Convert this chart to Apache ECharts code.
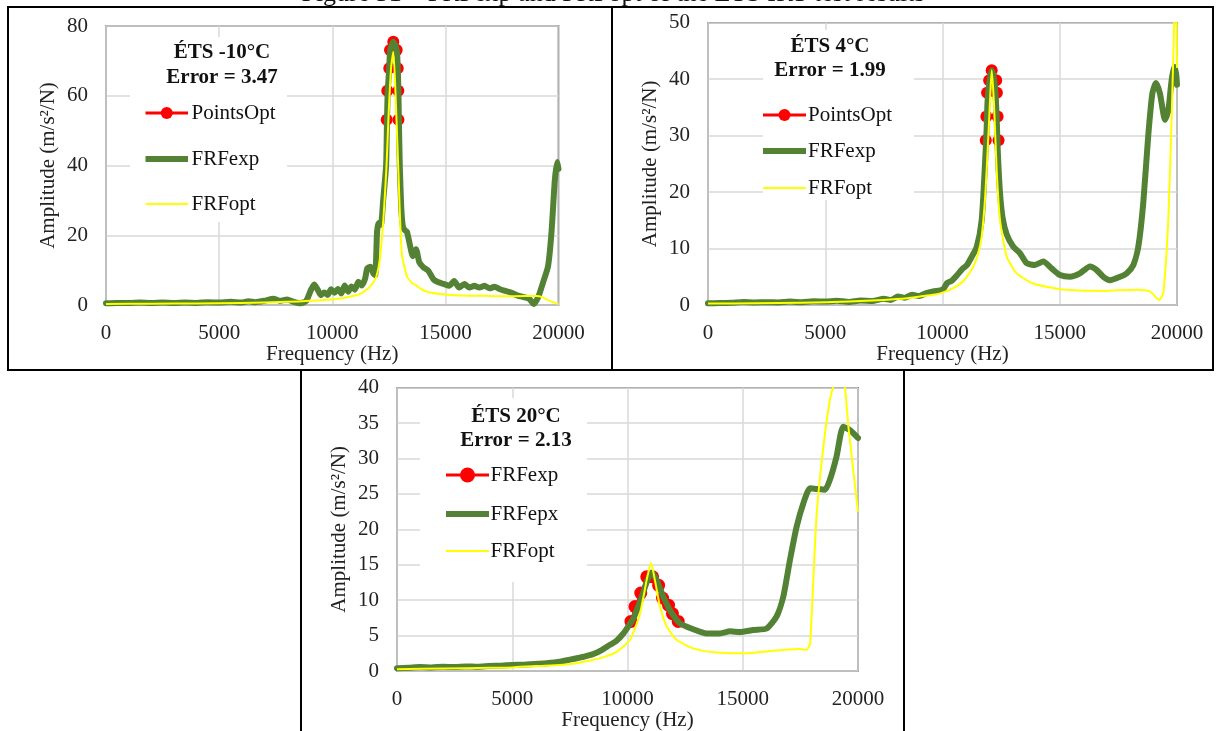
<!DOCTYPE html>
<html><head><meta charset="utf-8">
<script src="https://cdn.jsdelivr.net/npm/echarts@6/dist/echarts.min.js"></script>
<style>html,body{margin:0;padding:0;background:#fff}#c{width:1216px;height:731px}</style>
</head><body><div id="c"></div>
<script>
// ---------------- DATA ----------------
// Panel 1 : ÉTS -10°C
const p1PtsFreq = [12407, 12433, 12522, 12553, 12698, 12849, 12893, 12920, 12925];
const p1PtsAmp  = [53.1, 61.4, 67.9, 73.1, 75.5, 73.1, 67.9, 61.4, 53.1];
const p1ExpFreq = [0,500,1000,1500,2000,2500,3000,3500,4000,4500,5000,5500,6000,6300,6600,7000,7400,7700,8000,8300,8600,8850,9050,9200,9350,9500,9650,9800,9950,10100,10250,10400,10550,10700,10850,11000,11150,11300,11450,11550,11700,11820,11900,11980,12050,12150,12250,12380,12420,12450,12520,12560,12700,12850,12895,12925,12945,12985,13050,13120,13200,13300,13440,13560,13700,13850,14030,14250,14470,14690,14950,15170,15390,15610,15840,16060,16280,16500,16730,16950,17170,17390,17610,17900,18200,18500,18720,18900,19100,19320,19540,19690,19840,19950,20000];
const p1ExpAmp  = [0.5,0.6,0.6,0.7,0.6,0.7,0.6,0.7,0.6,0.8,0.7,0.9,0.7,1.1,0.8,1.2,1.8,1.2,1.6,0.9,0.5,1.2,4.2,5.9,4.5,2.8,3.6,2.9,4.5,3.5,4.6,3.3,5.6,3.8,5.3,4.4,6.7,5.6,7.5,10.5,11.0,9.0,8.5,21.0,23.5,23.0,30.0,40.0,53.0,61.0,68.0,73.0,75.5,73.0,68.0,61.0,53.0,40.0,28.0,22.5,21.5,21.0,17.0,14.0,16.0,12.2,10.8,9.8,7.4,6.5,6.0,5.5,6.9,5.0,6.0,5.0,5.5,5.0,5.5,4.8,5.2,4.6,4.1,3.6,2.7,2.2,1.7,0.3,2.2,6.5,11.2,20.8,36.0,41.0,39.0];
const p1OptFreq = [0,2000,4000,6000,8000,9000,10000,10500,11000,11300,11600,11800,11960,12100,12260,12400,12480,12600,12700,12800,12920,13070,13290,13500,13730,14000,14320,15000,15790,17000,18000,19036,19300,19620,20000];
const p1OptAmp  = [0.3,0.35,0.45,0.6,0.9,1.2,1.6,2.0,2.7,3.4,4.8,6.3,8.4,13.0,24.6,40.0,53.0,68.0,72.6,60.0,38.9,15.0,8.4,6.5,5.5,4.3,3.6,3.0,2.7,2.6,2.5,2.6,2.2,1.2,0.3];

// Panel 2 : ÉTS 4°C
const p2PtsFreq = [11845, 11870, 11900, 11990, 12098, 12290, 12320, 12350, 12390];
const p2PtsAmp  = [29.2, 33.4, 37.6, 39.8, 41.6, 39.8, 37.6, 33.4, 29.2];
const p2ExpFreq = [0,500,1000,1500,2000,2500,3000,3500,4000,4500,5000,5500,6000,6500,7000,7500,7800,8100,8400,8700,9000,9300,9600,9900,10030,10200,10400,10600,10850,11030,11200,11460,11670,11800,11880,11920,12000,12098,12200,12280,12320,12360,12450,12560,12740,13020,13300,13590,13940,14300,14650,15010,15440,15860,16290,16570,16860,17140,17570,17850,18140,18350,18560,18770,18950,19100,19270,19490,19630,19770,19880,19960,20000];
const p2ExpAmp  = [0.3,0.35,0.4,0.55,0.45,0.5,0.45,0.6,0.5,0.65,0.6,0.75,0.55,0.8,0.7,1.1,0.9,1.5,1.3,1.8,1.6,2.1,2.4,2.6,2.8,3.9,4.3,5.2,6.4,7.0,8.2,10.3,15.0,24.0,31.0,36.0,39.5,41.6,40.0,36.0,32.0,27.0,20.0,15.5,12.5,10.3,9.2,7.4,7.1,7.7,6.5,5.3,5.0,5.6,6.8,6.2,5.0,4.4,5.0,5.6,7.1,10.3,18.0,29.8,37.5,39.3,37.5,32.8,34.5,39.8,42.2,41.0,39.0];
const p2OptFreq = [0,2000,4000,6000,7500,8500,9040,9600,10000,10460,10900,11313,11500,11670,11800,11883,11980,12054,12100,12195,12310,12451,12737,13163,13871,15010,16857,18280,18847,19132,19245,19416,19628,19770,19880,19940,20000];
const p2OptAmp  = [0.25,0.3,0.4,0.6,0.9,1.2,1.5,1.8,2.2,3.0,4.3,6.8,8.8,12.1,18.0,23.9,32.0,38.7,41.6,35.7,23.9,15.1,8.6,5.6,3.8,2.8,2.5,2.7,2.4,1.2,0.9,2.1,15.0,32.8,50.0,58.0,42.0];

// Panel 3 : ÉTS 20°C
const p3PtsFreq = [10150, 10325, 10575, 10835, 11090, 11350, 11520, 11780, 11950, 12200];
const p3PtsAmp  = [7.0, 9.1, 11.0, 13.3, 13.3, 12.1, 10.3, 9.3, 8.1, 7.0];
const p3ExpFreq = [0,500,1000,1500,2000,2500,3000,3500,4000,4500,5000,5500,6000,6500,7070,7500,7800,8200,8520,8900,9240,9500,9820,10035,10250,10450,10620,10860,11050,11270,11550,11840,12280,12850,13430,14010,14450,14880,15460,16040,16470,16760,17050,17340,17630,17920,18210,18570,18780,19070,19360,19650,20000];
const p3ExpAmp  = [0.4,0.45,0.55,0.5,0.6,0.55,0.65,0.6,0.7,0.75,0.85,0.9,1.0,1.1,1.3,1.6,1.8,2.1,2.4,3.0,3.7,4.2,5.3,6.3,7.4,9.0,10.5,12.8,13.9,12.8,10.5,8.6,6.7,5.9,5.3,5.3,5.6,5.5,5.8,6.0,7.7,10.5,15.7,20.4,23.7,25.8,25.7,25.6,27.0,30.3,34.5,34.0,32.9];
const p3OptFreq = [0,2000,4000,5000,6000,7070,7800,8520,9000,9530,10110,10540,10830,11020,11190,11410,11700,12130,12850,13870,15020,16470,17480,17770,17920,18060,18210,18500,18780,19000,19200,19400,19600,20000];
const p3OptAmp  = [0.25,0.35,0.45,0.5,0.7,0.85,1.1,1.6,2.0,2.7,4.4,8.1,12.8,15.3,12.8,9.1,6.3,4.4,3.2,2.6,2.5,2.9,3.1,3.0,3.9,12.8,22.3,31.7,38.3,41.0,43.0,41.0,34.0,22.5];

// Text
const panelTitles = ['ÉTS -10°C', 'ÉTS 4°C', 'ÉTS 20°C'];
const panelErrors = ['Error = 3.47', 'Error = 1.99', 'Error = 2.13'];
const legendNames = [['PointsOpt','FRFexp','FRFopt'], ['PointsOpt','FRFexp','FRFopt'], ['FRFexp','FRFepx','FRFopt']];
const figureTitle = 'Figure 31 – FRFexp and FRFopt of the ÉTS IRT test results';
const xName = 'Frequency (Hz)';
const yName = 'Amplitude (m/s²/N)';
const yMax = [80, 50, 40];
const yStep = [20, 10, 5];

// ---------------- CHART ----------------
const zip = (a, b) => a.map((v, i) => [v, b[i]]);
const FONT = '"Liberation Serif", "Times New Roman", serif';
const TXT = '#222';
const GREEN = '#548235', YELLOW = '#FFFF00', RED = '#FF0000';

const grids = [
  {left: 106, top: 26, width: 452.5, height: 279},
  {left: 708, top: 22.7, width: 469, height: 282.3},
  {left: 397, top: 387.7, width: 461, height: 283.3}
];

const option = {
  animation: false,
  backgroundColor: '#fff',
  grid: grids.map(g => Object.assign({show: true, borderColor: '#404040', borderWidth: 1.5, backgroundColor: 'rgba(0,0,0,0)', outerBoundsMode: 'none'}, g)),
  xAxis: grids.map((g, i) => ({
    gridIndex: i, type: 'value', min: 0, max: 20000, interval: 5000,
    axisLine: {show: true, onZero: false, lineStyle: {color: '#bfbfbf', width: 1.5}},
    axisTick: {show: false},
    axisLabel: {color: TXT, fontFamily: FONT, fontSize: 21, margin: 18, showMinLabel: true, showMaxLabel: true, formatter: v => String(v)},
    splitLine: {show: true, lineStyle: {color: '#d9d9d9', width: 1.5}},
    name: xName, nameLocation: 'middle', nameGap: 39, nameMoveOverlap: false,
    nameTextStyle: {color: TXT, fontFamily: FONT, fontSize: 21}
  })),
  yAxis: grids.map((g, i) => ({
    gridIndex: i, type: 'value', min: 0, max: yMax[i], interval: yStep[i],
    axisLine: {show: true, onZero: false, lineStyle: {color: '#bfbfbf', width: 1.5}},
    axisTick: {show: false},
    axisLabel: {color: TXT, fontFamily: FONT, fontSize: 21, margin: 18, showMinLabel: true, showMaxLabel: true, formatter: v => String(v)},
    splitLine: {show: true, lineStyle: {color: '#d9d9d9', width: 1.5}},
    name: yName, nameLocation: 'middle', nameGap: 47, nameRotate: 90, nameMoveOverlap: false,
    nameTextStyle: {color: TXT, fontFamily: FONT, fontSize: 21}
  })),
  series: []
};

const sets = [
  [p1PtsFreq, p1PtsAmp, p1ExpFreq, p1ExpAmp, p1OptFreq, p1OptAmp, 12],
  [p2PtsFreq, p2PtsAmp, p2ExpFreq, p2ExpAmp, p2OptFreq, p2OptAmp, 12],
  [p3PtsFreq, p3PtsAmp, p3ExpFreq, p3ExpAmp, p3OptFreq, p3OptAmp, 13]
];
sets.forEach((s, i) => {
  option.series.push({
    name: legendNames[i][0] + '_' + i, type: 'line', xAxisIndex: i, yAxisIndex: i,
    data: zip(s[0], s[1]), symbol: 'circle', symbolSize: s[6], showSymbol: true,
    itemStyle: {color: RED}, lineStyle: {color: RED, width: 2}, z: 2, silent: true
  });
  option.series.push({
    name: legendNames[i][1] + '_' + i, type: 'line', xAxisIndex: i, yAxisIndex: i,
    data: zip(s[2], s[3]), showSymbol: false, smooth: 0.2,
    lineStyle: {color: GREEN, width: 6, cap: 'round', join: 'round'}, z: 3, silent: true
  });
  option.series.push({
    name: legendNames[i][2] + '_' + i, type: 'line', xAxisIndex: i, yAxisIndex: i,
    data: zip(s[4], s[5]), showSymbol: false, smooth: 0.2,
    lineStyle: {color: YELLOW, width: 2, join: 'round'}, z: 4, silent: true
  });
});

// ---------------- GRAPHICS (frames, text boxes, legends) ----------------
const G = [];
const rect = (x, y, w, h, z) => ({type: 'rect', silent: true, z: z, shape: {x, y, width: w, height: h}, style: {fill: '#fff'}});
const frame = (x, y, w, h) => ({type: 'rect', silent: true, z: 20, shape: {x, y, width: w, height: h}, style: {fill: 'none', stroke: '#000', lineWidth: 2}});
const text = (t, x, y, font, align) => ({type: 'text', silent: true, z: 21, x: x, y: y,
  style: {text: t, font: font, fill: '#111', textAlign: align || 'left', textVerticalAlign: 'middle'}});
const hline = (x1, x2, y, color, w) => ({type: 'line', silent: true, z: 21, shape: {x1, y1: y, x2, y2: y}, style: {stroke: color, lineWidth: w}});
const dot = (x, y, r) => ({type: 'circle', silent: true, z: 22, shape: {cx: x, cy: y, r: r}, style: {fill: RED}});

// frames
G.push(frame(8, 7, 604, 363));
G.push(frame(612, 7, 601, 363));
G.push(frame(301, 370, 603, 380));
// figure caption (cut at top)
G.push(text(figureTitle, 613, -6, '26px ' + FONT, 'center'));

// white boxes behind texts/legends
G.push(rect(130, 37, 157, 185, 1));
G.push(rect(763, 30, 151, 170, 1));
G.push(rect(420, 398, 167, 184, 1));

const boldF = 'bold 21px ' + FONT, regF = '21px ' + FONT;
// panel texts
const tpos = [[222, 53, 78], [830, 47, 71], [516, 417, 441]];
tpos.forEach((p, i) => {
  G.push(text(panelTitles[i], p[0], p[1], boldF, 'center'));
  G.push(text(panelErrors[i], p[0], p[2], boldF, 'center'));
});
// legends: [lineX1, lineX2, textX, y1, y2, y3, dotR]
const lpos = [
  [145.5, 188, 191.5, 113, 159, 204, 6],
  [763, 806, 808, 115, 151, 188, 6],
  [446, 489, 490.5, 475, 514, 551, 7.5]
];
lpos.forEach((p, i) => {
  G.push(hline(p[0], p[1], p[3], RED, 3));
  G.push(dot((p[0] + p[1]) / 2, p[3], p[6]));
  G.push(hline(p[0], p[1], p[4], GREEN, 6));
  G.push(hline(p[0], p[1], p[5], YELLOW, 2));
  G.push(text(legendNames[i][0], p[2], p[3], regF));
  G.push(text(legendNames[i][1], p[2], p[4], regF));
  G.push(text(legendNames[i][2], p[2], p[5], regF));
});
option.graphic = {elements: G};

const chart = echarts.init(document.getElementById('c'), null, {renderer: 'canvas'});
chart.setOption(option);
</script>
</body></html>
